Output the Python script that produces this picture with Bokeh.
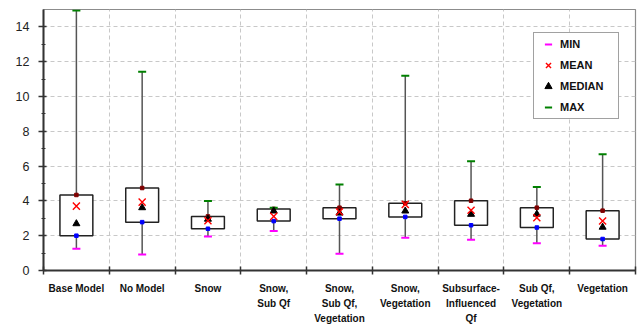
from bokeh.plotting import figure
from bokeh.models import Range1d, FixedTicker, LinearAxis, Legend, LegendItem
from bokeh.embed import file_html
from bokeh.resources import INLINE

categories = ["Base Model", "No Model", "Snow", "Snow,\nSub Qf", "Snow,\nSub Qf,\nVegetation",
              "Snow,\nVegetation", "Subsurface-\nInfluenced\nQf", "Sub Qf,\nVegetation", "Vegetation"]
min_vals = [1.25, 0.92, 1.96, 2.27, 0.96, 1.88, 1.77, 1.56, 1.42]
q1_vals = [2.00, 2.78, 2.40, 2.84, 2.98, 3.08, 2.60, 2.47, 1.81]
median_vals = [2.69, 3.61, 2.95, 3.42, 3.30, 3.42, 3.23, 3.24, 2.49]
mean_vals = [3.70, 3.93, 2.86, 3.11, 3.38, 3.80, 3.46, 3.03, 2.84]
q3_vals = [4.34, 4.74, 3.11, 3.54, 3.61, 3.86, 4.01, 3.61, 3.44]
max_vals = [14.94, 11.42, 3.99, 3.61, 4.94, 11.19, 6.28, 4.80, 6.68]
y_major = [0, 2, 4, 6, 8, 10, 12, 14]
y_minor = [1, 3, 5, 7, 9, 11, 13]

n = len(categories)
xc = [i + 0.5 for i in range(n)]
bounds = list(range(n + 1))

p = figure(width=638, height=328, output_backend="svg", toolbar_location=None,
           x_range=Range1d(0, n), y_range=Range1d(0, 15),
           min_border_left=43, min_border_right=3, min_border_top=9, min_border_bottom=58)
p.outline_line_color = "#8c8c8c"
p.outline_line_width = 1.2
p.background_fill_color = "white"

# Y axis
ya = p.yaxis[0]
ya.ticker = FixedTicker(ticks=y_major, minor_ticks=y_minor)
ya.axis_line_color = "#333333"
ya.axis_line_width = 2
ya.major_tick_line_color = "#333333"
ya.major_tick_line_width = 1.5
ya.major_tick_out = 5
ya.major_tick_in = 3
ya.minor_tick_line_color = "#333333"
ya.minor_tick_out = 2
ya.minor_tick_in = 2
ya.major_label_standoff = 9
ya.major_label_text_font = "Liberation Sans"
ya.major_label_text_font_size = "12.5px"
ya.major_label_text_color = "#222222"

# X axes (three stacked label lines)
lines = [c.split("\n") for c in categories]
xa = p.xaxis[0]
xa.ticker = FixedTicker(ticks=xc, minor_ticks=bounds)
xa.axis_line_color = "#333333"
xa.axis_line_width = 2
xa.major_tick_line_color = None
xa.minor_tick_line_color = "#333333"
xa.minor_tick_line_width = 1.5
xa.minor_tick_in = 4
xa.minor_tick_out = 4
xa.major_tick_out = 4
xa.major_label_standoff = 8
xa.major_label_overrides = {xc[i]: lines[i][0] for i in range(n)}
xa.major_label_text_font = "Liberation Sans"
xa.major_label_text_font_style = "bold"
xa.major_label_text_font_size = "10px"
xa.major_label_text_color = "#111111"

for k in (1, 2):
    ax = LinearAxis(ticker=FixedTicker(ticks=xc),
                    major_label_overrides={xc[i]: (lines[i][k] if len(lines[i]) > k else "") for i in range(n)})
    ax.axis_line_color = None
    ax.major_tick_line_color = None
    ax.minor_tick_line_color = None
    ax.major_tick_out = 0
    ax.major_tick_in = 0
    ax.minor_tick_out = 0
    ax.major_label_standoff = 1
    ax.major_label_text_font = "Liberation Sans"
    ax.major_label_text_font_style = "bold"
    ax.major_label_text_font_size = "10px"
    ax.major_label_text_color = "#111111"
    p.add_layout(ax, "below")

# Grids
p.xgrid.ticker = FixedTicker(ticks=bounds[1:-1])
p.ygrid.ticker = FixedTicker(ticks=y_major[1:])
for g in (p.xgrid[0], p.ygrid[0]):
    g.grid_line_color = "#c8c8c8"
    g.grid_line_dash = "4 3"
    g.grid_line_width = 1

# Glyphs
p.segment(xc, min_vals, xc, max_vals, line_color="#555555", line_width=1.5)
p.vbar(x=xc, width=0.5, bottom=q1_vals, top=q3_vals, fill_color="white",
       line_color="#222222", line_width=1.5)
p.scatter(xc, q1_vals, marker="square", size=3.5, color="#0000ff")
p.scatter(xc, q3_vals, marker="square", size=3.5, color="#800000")
r_min = p.scatter(xc, min_vals, marker="dash", size=8, line_color="#ff00ff", line_width=2)
r_max = p.scatter(xc, max_vals, marker="dash", size=8, line_color="#008000", line_width=2)
r_med = p.scatter(xc, median_vals, marker="triangle", size=7, color="black")
r_mean = p.scatter(xc, mean_vals, marker="x", size=10, line_color="red", line_width=1.4)

legend = Legend(items=[LegendItem(label="MIN", renderers=[r_min]),
                       LegendItem(label="MEAN", renderers=[r_mean]),
                       LegendItem(label="MEDIAN", renderers=[r_med]),
                       LegendItem(label="MAX", renderers=[r_max])],
                location=(490, 151))
legend.padding = 2
legend.spacing = 3
legend.glyph_width = 24
legend.glyph_height = 18
legend.label_standoff = 0
legend.label_width = 56
legend.label_height = 18
legend.label_text_font = "Liberation Sans"
legend.label_text_font_style = "bold"
legend.label_text_font_size = "11px"
legend.label_text_color = "#111111"
legend.border_line_color = "#444444"
legend.border_line_width = 1.5
legend.background_fill_color = "white"
legend.background_fill_alpha = 1.0
p.add_layout(legend, "center")

open("out.html", "w").write(file_html(p, INLINE))
